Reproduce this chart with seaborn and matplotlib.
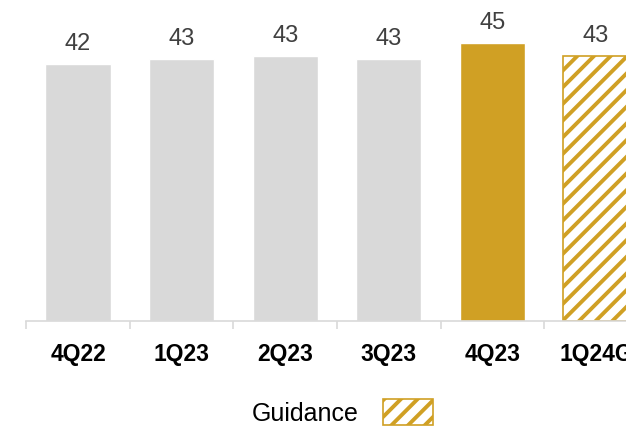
import matplotlib
matplotlib.use("Agg")
import matplotlib.pyplot as plt
import seaborn as sns
from matplotlib.patches import Patch
from matplotlib.ticker import FixedLocator

quarters = ["4Q22", "1Q23", "2Q23", "3Q23", "4Q23", "1Q24G"]
values = [41.9, 42.7, 43.2, 42.7, 45.3, 43.2]
gray = "#D9D9D9"
gold = "#D0A024"
colors = [gray, gray, gray, gray, gold, "white"]

sns.set_style("white")
plt.rcParams["font.family"] = ["Liberation Sans", "DejaVu Sans"]
plt.rcParams["hatch.linewidth"] = 2.8

fig = plt.figure(figsize=(6.26, 4.31), dpi=100)
ax = fig.add_axes([0.0419, 0.2529, 0.993, 0.7471])

sns.barplot(x=quarters, y=values, hue=quarters, palette=colors, legend=False,
            width=0.63, saturation=1, ax=ax)

# guidance bar is hatched
last = ax.patches[5]
last.set_hatch("//")
last.set_edgecolor(gold)
last.set_linewidth(1.2)

for c in ax.containers:
    ax.bar_label(c, fmt="{:.0f}", padding=7, fontsize=17, color="#404040")

ax.set_xlim(-0.5, 5.5)
ax.set_ylim(0, 52.5)
ax.set_yticks([])
ax.set_ylabel("")
sns.despine(ax=ax, left=True, top=True, right=True)
ax.spines["bottom"].set_color("#D9D9D9")
ax.spines["bottom"].set_linewidth(1.2)

ax.xaxis.set_minor_locator(FixedLocator([i - 0.5 for i in range(7)]))
ax.tick_params(axis="x", which="major", length=0, pad=15, labelsize=16.5,
               labelcolor="black")
ax.tick_params(axis="x", which="minor", length=6, width=1.2, color="#D9D9D9", bottom=True)
for t in ax.get_xticklabels():
    t.set_fontweight("bold")

handle = Patch(facecolor="white", edgecolor=gold, hatch="//", linewidth=1.2)
leg = fig.legend([handle], ["Guidance"], loc="center", bbox_to_anchor=(0.547, 0.042),
                 frameon=False, markerfirst=False, fontsize=18, handlelength=2.0,
                 handleheight=1.25, handletextpad=1.0)
for t in leg.get_texts():
    t.set_color("black")

fig.savefig("out.png", dpi=100)
